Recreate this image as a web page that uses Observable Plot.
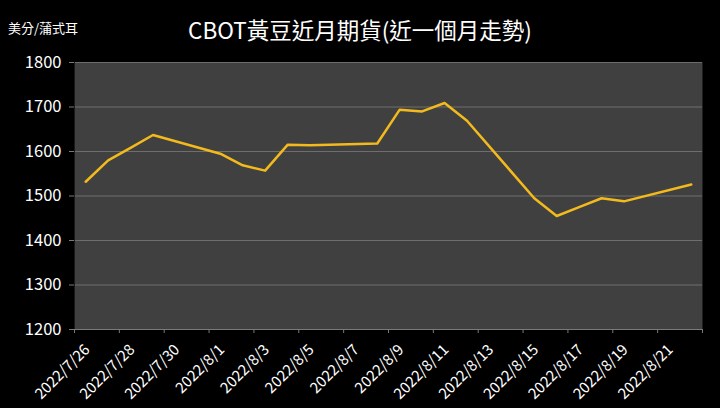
<!DOCTYPE html>
<html><head><meta charset="utf-8">
<script src="https://cdn.jsdelivr.net/npm/d3@7"></script>
<script src="https://cdn.jsdelivr.net/npm/@observablehq/plot@0.6"></script>
<style>
html,body{margin:0;padding:0;background:#000;}
#wrap{width:720px;height:408px;position:relative;overflow:hidden;font-family:"Noto Sans CJK TC","Noto Sans",sans-serif;color:#fff;}
#head{position:relative;height:50px;}
#title{position:absolute;left:0;width:720px;top:14px;text-align:center;font-size:22.5px;line-height:30px;}
#unit{position:absolute;left:8px;top:20px;font-size:13px;line-height:16px;}
</style></head>
<body><div id="wrap"><div id="head"><div id="unit">美分/蒲式耳</div><div id="title">CBOT黃豆近月期貨(近一個月走勢)</div></div><div id="chart"></div></div>
<script>
const dates = ["2022/7/26","2022/7/27","2022/7/28","2022/7/29","2022/8/1","2022/8/2","2022/8/3","2022/8/4","2022/8/5","2022/8/8","2022/8/9","2022/8/10","2022/8/11","2022/8/12","2022/8/15","2022/8/16","2022/8/17","2022/8/18","2022/8/19","2022/8/22"];
const prices = [1532,1580,1608,1637,1595,1569,1557,1615,1614,1618,1694,1690,1709,1669,1495,1455,1475,1495,1488,1526];
const startDay = "2022/7/26";
const endDay = "2022/8/22";
const yTicks = [1200,1300,1400,1500,1600,1700,1800];

const parse = s => { const [y,m,d] = s.split("/").map(Number); return new Date(y, m-1, d); };
const t0 = parse(startDay);
const allDays = d3.timeDay.range(t0, d3.timeDay.offset(parse(endDay), 1));
const nDays = allDays.length;
const fmt = d => `${d.getFullYear()}/${d.getMonth()+1}/${d.getDate()}`;
const idx = s => d3.timeDay.count(t0, parse(s));
const data = dates.map((s,i) => ({x: idx(s) + 0.5, y: prices[i]}));
const labelDays = allDays.map((d,i) => ({x: i + 0.5, label: fmt(d)})).filter((d,i) => i % 2 === 0);
const bounds = d3.range(0, nDays + 1, 2);

const chart = Plot.plot({
  width: 720, height: 358,
  marginTop: 12, marginBottom: 79, marginLeft: 74, marginRight: 18,
  style: {background: "#000", color: "#fff", fontFamily: "'Noto Sans CJK TC', sans-serif"},
  x: {domain: [0, nDays], axis: null},
  y: {domain: [1200, 1800], axis: null},
  marks: [
    Plot.frame({fill: "#404040", stroke: null}),
    Plot.ruleY(yTicks.slice(1), {stroke: "#6e6e6e", strokeWidth: 1}),
    Plot.ruleY([1200], {stroke: "#7a7a7a", strokeWidth: 1}),
    Plot.ruleX([0], {stroke: "#1a1a1a", strokeWidth: 1}),
    Plot.axisX({ticks: bounds, tickFormat: () => "", tickSize: 4, stroke: "#7a7a7a", label: null}),
    Plot.axisY({ticks: yTicks, tickFormat: d => String(d), tickSize: 5, tickPadding: 8, fontSize: 16.5, stroke: "#7a7a7a", fill: "#fff", label: null}),
    Plot.line(data, {x: "x", y: "y", stroke: "#F2BA1C", strokeWidth: 2.5}),
    Plot.text(labelDays, {x: "x", frameAnchor: "bottom", text: "label", rotate: -45, textAnchor: "end", dy: 21, dx: 5, fontSize: 15, fill: "#fff"})
  ]
});
document.getElementById("chart").appendChild(chart);
</script></body></html>
